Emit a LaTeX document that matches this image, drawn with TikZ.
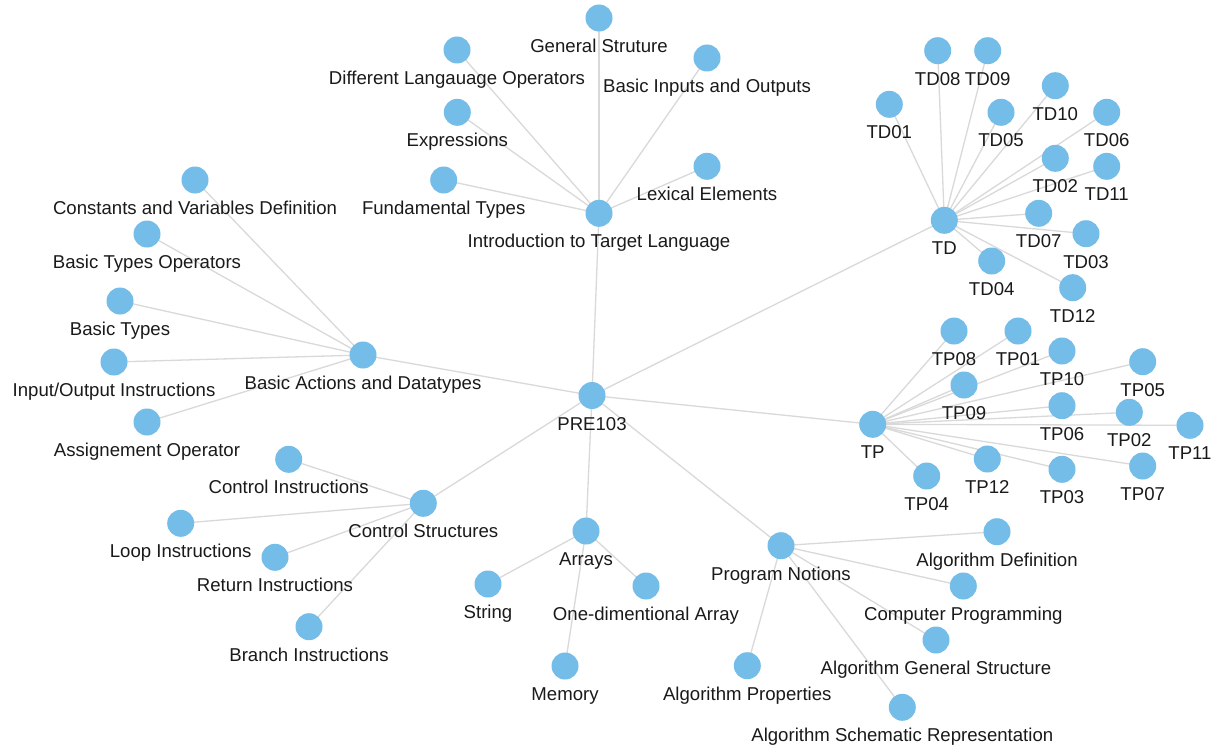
\documentclass[tikz,border=0pt]{standalone}
\usepackage{fontspec}
\setmainfont{Liberation Sans}
\usetikzlibrary{backgrounds}
\definecolor{dotblue}{HTML}{74BDE9}
\definecolor{edgegray}{HTML}{D9D9D9}
\definecolor{txt}{HTML}{1A1A1A}
\newcommand\labfont{\fontsize{18.6}{22}\selectfont}
\newcommand\mknode[4]{%
  \node[dot] (#1) at (#2,#3) {};
  \node[lab] (#1-l) at (#2,{#3+34.5}) {#4};}
\tikzset{
  dot/.style={circle,fill=dotblue,draw=none,minimum size=27,inner sep=0},
  lab/.style={anchor=base,font=\labfont,text=txt,inner sep=0},
  link/.style={draw=edgegray,line width=1.3}
}
\begin{document}
\begin{tikzpicture}[x=1pt,y=-1pt]
\useasboundingbox (0,0) rectangle (1223,752);
% root
\mknode{root}{592}{395.5}{PRE103}
% Introduction
\mknode{intro}{599}{213.3}{Introduction to Target Language}
\mknode{gs}{599}{18}{General Struture}
\mknode{dlo}{457}{50}{Different Langauage Operators}
\mknode{bio}{707}{58}{Basic Inputs and Outputs}
\mknode{expr}{457.3}{112.3}{Expressions}
\mknode{lex}{707}{166.3}{Lexical Elements}
\mknode{fund}{443.7}{180}{Fundamental Types}
% Basic actions
\mknode{bad}{363}{355}{Basic Actions and Datatypes}
\mknode{cvd}{195}{180}{Constants and Variables Definition}
\mknode{bto}{147}{234}{Basic Types Operators}
\mknode{bt}{120}{301}{Basic Types}
\mknode{ioi}{114}{362}{Input/Output Instructions}
\mknode{ao}{147}{422}{Assignement Operator}
% Control structures
\mknode{cs}{423.3}{503.3}{Control Structures}
\mknode{ci}{288.7}{459.3}{Control Instructions}
\mknode{li}{180.7}{523.3}{Loop Instructions}
\mknode{ri}{275}{557.3}{Return Instructions}
\mknode{bi}{309}{626.7}{Branch Instructions}
% Arrays
\mknode{arr}{586}{531}{Arrays}
\mknode{str}{488}{584}{String}
\mknode{oda}{646}{586}{One-dimentional Array}
\mknode{mem}{565}{666}{Memory}
% Program notions
\mknode{pn}{781}{545.7}{Program Notions}
\mknode{ad}{997}{531.7}{Algorithm Definition}
\mknode{cp}{963.3}{586}{Computer Programming}
\mknode{ags}{936}{640}{Algorithm General Structure}
\mknode{ap}{747.3}{665.7}{Algorithm Properties}
\mknode{asr}{902.3}{707.3}{Algorithm Schematic Representation}
% TD
\mknode{td}{944.3}{220.3}{TD}
\mknode{td08}{937.7}{50.7}{TD08}
\mknode{td09}{987.7}{50.7}{TD09}
\mknode{td01}{889.3}{104.3}{TD01}
\mknode{td10}{1055.3}{85.7}{TD10}
\mknode{td05}{1001}{112.3}{TD05}
\mknode{td06}{1106.7}{112.3}{TD06}
\mknode{td02}{1055.3}{158.3}{TD02}
\mknode{td11}{1106.7}{166.3}{TD11}
\mknode{td07}{1038.7}{213.3}{TD07}
\mknode{td03}{1086}{233.7}{TD03}
\mknode{td04}{991.7}{261}{TD04}
\mknode{td12}{1072.7}{287.7}{TD12}
% TP
\mknode{tp}{872.7}{424.3}{TP}
\mknode{tp08}{954}{331}{TP08}
\mknode{tp01}{1018}{331}{TP01}
\mknode{tp10}{1062}{351}{TP10}
\mknode{tp05}{1142.7}{361.7}{TP05}
\mknode{tp09}{964}{385}{TP09}
\mknode{tp06}{1062}{405.7}{TP06}
\mknode{tp02}{1129.3}{412.3}{TP02}
\mknode{tp11}{1190}{425.3}{TP11}
\mknode{tp12}{987.3}{459}{TP12}
\mknode{tp04}{926.7}{476}{TP04}
\mknode{tp03}{1062}{469.3}{TP03}
\mknode{tp07}{1142.7}{466}{TP07}
\begin{pgfonlayer}{background}
\fill[white] (0,0) rectangle (1223,752);
\foreach \a/\b in {root/intro,root/bad,root/cs,root/arr,root/pn,root/td,root/tp,
  intro/gs,intro/dlo,intro/bio,intro/expr,intro/lex,intro/fund,
  bad/cvd,bad/bto,bad/bt,bad/ioi,bad/ao,
  cs/ci,cs/li,cs/ri,cs/bi,
  arr/str,arr/oda,arr/mem,
  pn/ad,pn/cp,pn/ags,pn/ap,pn/asr,
  td/td08,td/td09,td/td01,td/td10,td/td05,td/td06,td/td02,td/td11,td/td07,td/td03,td/td04,td/td12,
  tp/tp08,tp/tp01,tp/tp10,tp/tp05,tp/tp09,tp/tp06,tp/tp02,tp/tp11,tp/tp12,tp/tp04,tp/tp03,tp/tp07}
  \draw[link] (\a.center) -- (\b.center);
\end{pgfonlayer}
\end{tikzpicture}
\end{document}
